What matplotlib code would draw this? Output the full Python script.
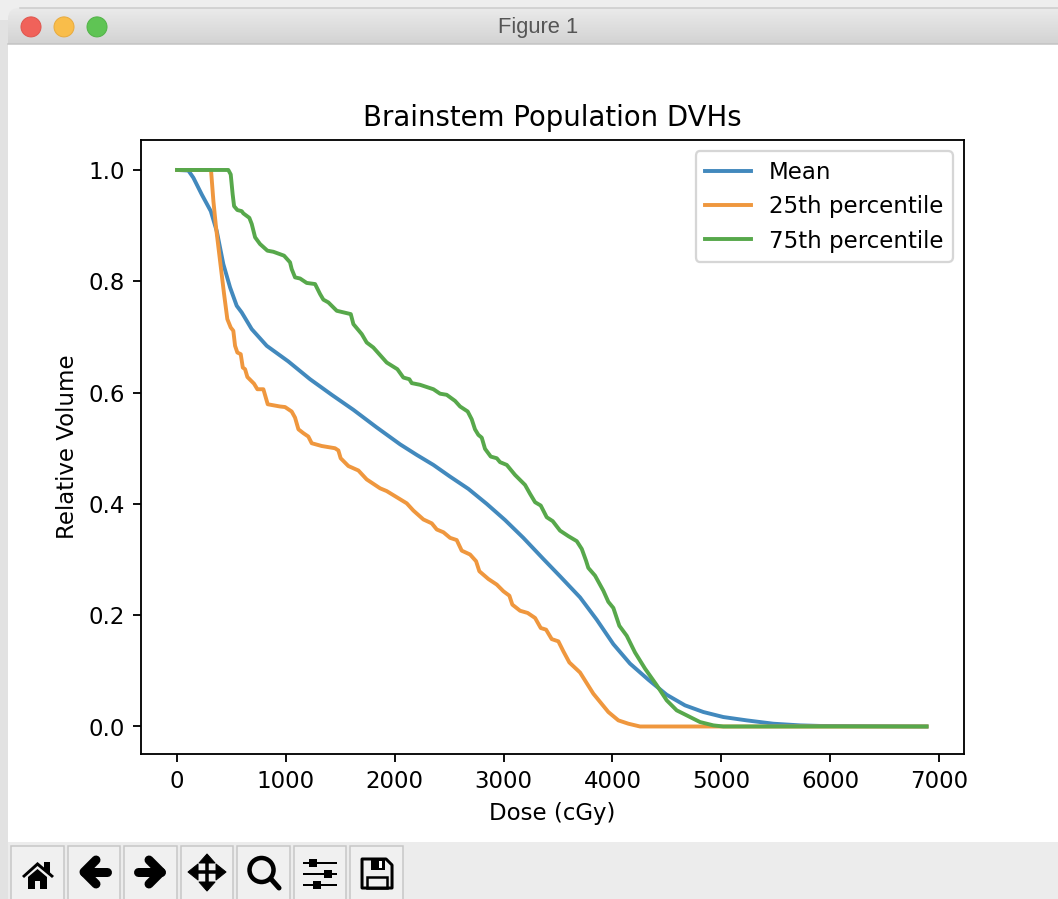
"""Brainstem population DVH figure, shown inside a macOS matplotlib window."""
import matplotlib
matplotlib.use("Agg")
import matplotlib.pyplot as plt
import numpy as np
from matplotlib.colors import LinearSegmentedColormap
from matplotlib.lines import Line2D
from matplotlib.patches import Circle, FancyBboxPatch, Polygon, Rectangle

W, H, DPI = 1058, 899, 165

mean_dose = [0, 104, 150, 227, 310, 365, 425, 487, 548, 594, 686, 824, 1022, 1222, 1421, 1620,
             1830, 2049, 2202, 2355, 2508, 2676, 2845, 3013, 3181, 3365, 3518, 3702, 3855, 4008,
             4161, 4330, 4498, 4666, 4835, 5018, 5233, 5478, 5723, 5906, 6885]
mean_vol = [1.0, 0.999, 0.986, 0.956, 0.926, 0.890, 0.831, 0.789, 0.756, 0.744, 0.714, 0.684,
            0.656, 0.624, 0.596, 0.569, 0.538, 0.507, 0.488, 0.470, 0.449, 0.427, 0.400, 0.371,
            0.339, 0.301, 0.270, 0.232, 0.192, 0.148, 0.113, 0.084, 0.057, 0.038, 0.026, 0.017,
            0.011, 0.005, 0.002, 0.001, 0.0]

p25_dose = [0, 312, 334, 358, 395, 432, 462, 493, 517, 533, 554, 585, 604, 625, 646, 707, 738, 793,
            833, 946, 992, 1053, 1084, 1115, 1161, 1206, 1237, 1329, 1451, 1482, 1503, 1574, 1666,
            1742, 1865, 1926, 2018, 2110, 2171, 2263, 2340, 2386, 2447, 2508, 2569, 2615, 2692,
            2747, 2777, 2860, 2937, 2998, 3053, 3080, 3151, 3221, 3289, 3341, 3390, 3442, 3503,
            3549, 3604, 3702, 3824, 3962, 4054, 4146, 4253, 6885]
p25_vol = [1.0, 1.0, 0.944, 0.897, 0.837, 0.777, 0.732, 0.717, 0.711, 0.684, 0.672, 0.669, 0.645,
           0.642, 0.628, 0.616, 0.606, 0.606, 0.579, 0.575, 0.574, 0.566, 0.555, 0.534, 0.527,
           0.521, 0.509, 0.504, 0.500, 0.496, 0.482, 0.468, 0.460, 0.444, 0.428, 0.423, 0.412,
           0.401, 0.388, 0.372, 0.365, 0.354, 0.349, 0.339, 0.335, 0.316, 0.309, 0.297, 0.279,
           0.265, 0.255, 0.243, 0.235, 0.219, 0.208, 0.204, 0.195, 0.177, 0.174, 0.157, 0.153,
           0.135, 0.115, 0.097, 0.059, 0.026, 0.011, 0.005, 0.0, 0.0]

p75_dose = [0, 471, 493, 511, 524, 554, 594, 609, 664, 686, 717, 762, 830, 885, 983, 1038, 1053,
            1084, 1130, 1191, 1268, 1314, 1344, 1390, 1467, 1596, 1620, 1697, 1742, 1803, 1926,
            2024, 2079, 2134, 2156, 2232, 2355, 2416, 2477, 2554, 2600, 2670, 2707, 2737, 2768,
            2799, 2829, 2882, 2937, 2967, 3029, 3105, 3197, 3243, 3289, 3341, 3396, 3451, 3518,
            3595, 3672, 3718, 3757, 3778, 3840, 3916, 3962, 4008, 4063, 4131, 4207, 4299, 4407,
            4498, 4590, 4682, 4804, 4927, 5018, 6885]
p75_vol = [1.0, 1.0, 0.992, 0.956, 0.935, 0.928, 0.926, 0.922, 0.914, 0.903, 0.879, 0.867, 0.855,
           0.853, 0.846, 0.834, 0.822, 0.807, 0.805, 0.797, 0.795, 0.777, 0.767, 0.762, 0.747,
           0.741, 0.723, 0.705, 0.690, 0.681, 0.654, 0.642, 0.627, 0.624, 0.617, 0.614, 0.606,
           0.598, 0.596, 0.585, 0.575, 0.566, 0.552, 0.534, 0.524, 0.519, 0.499, 0.485, 0.482,
           0.475, 0.470, 0.452, 0.434, 0.418, 0.403, 0.397, 0.376, 0.369, 0.352, 0.342, 0.333,
           0.319, 0.298, 0.285, 0.271, 0.244, 0.224, 0.213, 0.181, 0.163, 0.133, 0.104, 0.074,
           0.047, 0.029, 0.020, 0.008, 0.002, 0.0, 0.0]

fig = plt.figure(figsize=((W + 0.1) / DPI, (H + 0.1) / DPI), dpi=DPI)


def px(n):
    """Screen pixels to points, for line widths."""
    return n * 72 / DPI


# --- window chrome, in screen pixels ---
ui = fig.add_axes([0, 0, 1, 1], zorder=0)
ui.axis("off")
ui.add_patch(Rectangle((0, 0), W, H, fc="#eeeeee", ec="none"))
ui.add_patch(Rectangle((0, 20), 8, H, fc="#e2e2e2", ec="none"))
bar = FancyBboxPatch((8, 8), W + 20, 60, boxstyle="round,pad=0,rounding_size=11",
                     fc="none", ec="none")
ui.add_patch(bar)
grad = np.linspace(0, 1, 40).reshape(-1, 1)
img = ui.imshow(grad, extent=(0, W, 44, 8), aspect="auto", zorder=1,
                cmap=LinearSegmentedColormap.from_list("bar", ["#ebebeb", "#d3d3d3"]))
img.set_clip_path(bar)
ui.set_xlim(0, W)
ui.set_ylim(H, 0)
ui.add_line(Line2D([20, W], [8, 8], color="#cbcbcb", lw=px(1.5), zorder=2))
ui.add_patch(Rectangle((8, 44), W, 798, fc="white", ec="none", zorder=2))
ui.add_line(Line2D([8, W], [44, 44], color="#c2c2c2", lw=px(1.5), zorder=2))
for cx, fc, ec in [(31, "#f0625a", "#e0564e"), (64, "#f9bd4a", "#e8ab3e"), (97, "#5fc454", "#52b348")]:
    ui.add_patch(Circle((cx, 27), 10, fc=fc, ec=ec, lw=px(1), zorder=3))
ui.text(538, 27.5, "Figure 1", ha="center", va="center", fontsize=9.6, color="#555555",
        family="Liberation Sans", zorder=3)

# toolbar
ui.add_patch(Rectangle((8, 842), W, 57, fc="#ececec", ec="none", zorder=2))
for x0, x1 in [(11, 64), (68, 120), (124, 177), (181, 233), (237, 290), (294, 346), (350, 403)]:
    ui.add_patch(Rectangle((x0, 846), x1 - x0, 60, fc="#f0f0f0", ec="#c6c6c6", lw=px(1.5), zorder=2))

# home
ui.add_patch(Polygon([(22, 876), (37.5, 862), (44, 867.5), (44, 862), (50, 862), (50, 872.5), (54, 876),
                      (52, 878), (37.5, 866), (24, 878)], fc="black", ec="none", zorder=3))
ui.add_patch(Polygon([(28, 877), (37.5, 869), (47, 877), (47, 889), (40, 889), (40, 881), (35, 881),
                      (35, 889), (28, 889)], fc="black", ec="none", zorder=3))
# back / forward
for shaft, head in [([107, 84], [(96, 860), (84, 872), (96, 884)]),
                    ([138, 161], [(149, 860), (161, 872), (149, 884)])]:
    ui.add_line(Line2D(shaft, [872, 872], color="black", lw=px(9), solid_capstyle="round", zorder=3))
    ui.add_line(Line2D(*zip(*head), color="black", lw=px(9), solid_capstyle="round",
                       solid_joinstyle="round", zorder=3))
# pan
ui.add_line(Line2D([207, 207], [858, 888], color="black", lw=px(3.5), zorder=3))
ui.add_line(Line2D([193, 221], [872, 872], color="black", lw=px(3.5), zorder=3))
for tri in [[(207, 854), (199, 863), (215, 863)], [(207, 891), (199, 882), (215, 882)],
            [(188, 872), (198, 864), (198, 880)], [(226, 872), (216, 864), (216, 880)]]:
    ui.add_patch(Polygon(tri, fc="black", ec="black", lw=px(1), joinstyle="round", zorder=3))
# zoom
ui.add_patch(Circle((261.5, 870), 12, fc="none", ec="black", lw=px(4.5), zorder=3))
ui.add_line(Line2D([271, 279], [879, 888], color="black", lw=px(5), solid_capstyle="round", zorder=3))
# sliders
for y, knob in [(863, 313), (874, 328), (885, 317)]:
    ui.add_line(Line2D([304, 336], [y, y], color="black", lw=px(2), zorder=3))
    ui.add_patch(Rectangle((knob - 4, y - 4), 8, 8, fc="black", ec="none", zorder=3))
# save
ui.add_patch(Polygon([(362, 859), (386, 859), (392, 865), (392, 888), (362, 888)], fc="none", ec="black",
                     lw=px(3), joinstyle="round", zorder=3))
ui.add_patch(Rectangle((371, 859), 14, 11, fc="black", ec="none", zorder=3))
ui.add_patch(Rectangle((379, 861), 3, 7, fc="white", ec="none", zorder=3))
ui.add_patch(Rectangle((367, 877), 20, 11, fc="none", ec="black", lw=px(2.5), zorder=3))

# --- the plot itself ---
ax = fig.add_axes([141 / W, 1 - 754 / H, 823 / W, 614 / H], zorder=1)
ax.plot(mean_dose, mean_vol, color="#4289bd", lw=1.7, label="Mean")
ax.plot(p25_dose, p25_vol, color="#ef973e", lw=1.7, label="25th percentile")
ax.plot(p75_dose, p75_vol, color="#57a84b", lw=1.7, label="75th percentile")
ax.set_xlim(-331, 7230)
ax.set_ylim(-0.0494, 1.054)
ax.set_title("Brainstem Population DVHs")
ax.set_xlabel("Dose (cGy)")
ax.set_ylabel("Relative Volume")
ax.legend(loc="upper right")

fig.savefig("out.png", dpi=DPI)
